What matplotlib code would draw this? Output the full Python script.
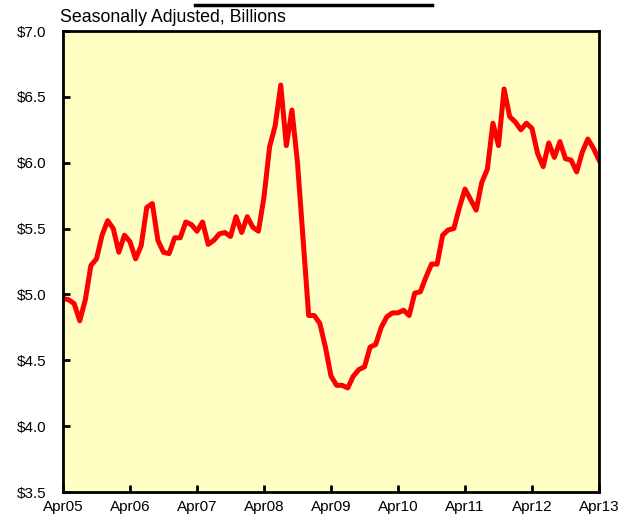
import matplotlib.pyplot as plt
from matplotlib.lines import Line2D
import numpy as np

plt.rcParams['font.family'] = ['Liberation Sans', 'DejaVu Sans']

# monthly values, Apr05 .. Apr13 (billions $, seasonally adjusted)
values = [
    4.97, 4.96, 4.93, 4.80, 4.96, 5.22, 5.27, 5.45, 5.56, 5.50, 5.32, 5.45,
    5.40, 5.27, 5.37, 5.66, 5.69, 5.41, 5.32, 5.31, 5.43, 5.43, 5.55, 5.53,
    5.48, 5.55, 5.38, 5.41, 5.46, 5.47, 5.44, 5.59, 5.47, 5.59, 5.51, 5.48,
    5.74, 6.12, 6.28, 6.59, 6.13, 6.40, 6.00, 5.42, 4.84, 4.84, 4.78, 4.60,
    4.38, 4.31, 4.31, 4.29, 4.38, 4.43, 4.45, 4.60, 4.62, 4.75, 4.83, 4.86,
    4.86, 4.88, 4.84, 5.01, 5.02, 5.13, 5.23, 5.23, 5.45, 5.49, 5.50, 5.66,
    5.80, 5.72, 5.64, 5.85, 5.95, 6.30, 6.13, 6.56, 6.35, 6.31, 6.25, 6.30,
    6.26, 6.07, 5.97, 6.15, 6.04, 6.16, 6.03, 6.02, 5.93, 6.08, 6.18, 6.11,
    6.02,
]
tick_labels = ['Apr05', 'Apr06', 'Apr07', 'Apr08', 'Apr09', 'Apr10', 'Apr11', 'Apr12', 'Apr13']
y_ticks = [3.5, 4.0, 4.5, 5.0, 5.5, 6.0, 6.5, 7.0]

x = np.arange(len(values))

fig = plt.figure(figsize=(6.3, 5.19), dpi=100)
ax = fig.add_axes([63 / 630, 1 - 492 / 519, 536 / 630, 461 / 519])
ax.set_facecolor('#ffffc4')

ax.plot(x, values, color='#ff0000', linewidth=3.6)

ax.set_xlim(0, 96)
ax.set_ylim(3.5, 7.0)
ax.set_xticks(np.arange(0, 97, 12))
ax.set_xticklabels(tick_labels)
ax.set_yticks(y_ticks)
ax.set_yticklabels([f'${v:.1f}' for v in y_ticks])

for s in ax.spines.values():
    s.set_linewidth(2)
    s.set_color('black')
ax.tick_params(axis='both', direction='in', length=5, width=2, labelsize=11)
ax.tick_params(axis='y', pad=12)
ax.tick_params(axis='x', pad=6)

fig.text(60 / 630, 1 - 17 / 519, 'Seasonally Adjusted, Billions', fontsize=12.8,
         ha='left', va='center')

# underline of the (cut off) heading
fig.add_artist(Line2D([195 / 630, 432 / 630], [1 - 5 / 519, 1 - 5 / 519],
                      color='black', linewidth=2.5, transform=fig.transFigure))

fig.savefig('out.png', dpi=100)
